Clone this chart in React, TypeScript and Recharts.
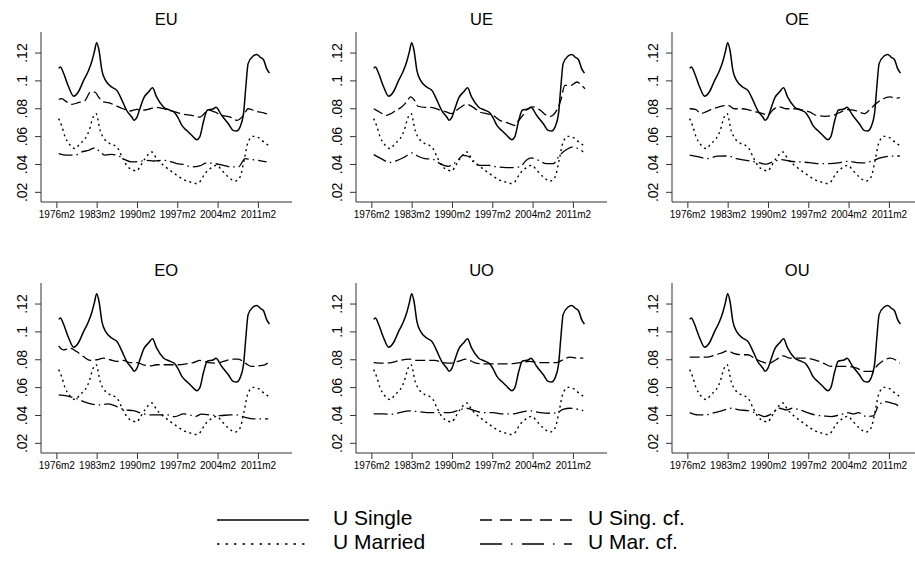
import { Line, LineChart, XAxis, YAxis } from "recharts";

type Pt = [number, number];

const panelTitles = ["EU", "UE", "OE", "EO", "UO", "OU"];
const yearTicks = [1976, 1983, 1990, 1997, 2004, 2011];
const valueTicks = [0.02, 0.04, 0.06, 0.08, 0.1, 0.12];
const legendLabels = ["U Single", "U Sing. cf.", "U Married", "U Mar. cf."];

// common to every panel
const uSingle: Pt[] = [
  [1976.4, 0.109], [1976.7, 0.11], [1977.2, 0.106], [1978.1, 0.096], [1979.0, 0.089],
  [1979.8, 0.092], [1980.7, 0.1], [1981.6, 0.1076], [1982.2, 0.1147], [1982.6, 0.121],
  [1983.0, 0.1274], [1983.4, 0.122], [1983.9, 0.1076], [1984.6, 0.1], [1985.6, 0.0956],
  [1986.6, 0.0927], [1987.4, 0.086], [1988.2, 0.0789], [1989.1, 0.0741], [1989.5, 0.0717],
  [1990.0, 0.074], [1990.5, 0.08], [1991.2, 0.088], [1992.0, 0.092], [1992.7, 0.095],
  [1993.4, 0.0885], [1994.6, 0.0813], [1995.7, 0.079], [1996.6, 0.077], [1997.2, 0.073],
  [1997.8, 0.068], [1998.6, 0.0645], [1999.5, 0.061], [2000.4, 0.0578], [2000.9, 0.0598],
  [2001.6, 0.0717], [2002.2, 0.0789], [2003.3, 0.08], [2003.7, 0.081], [2004.7, 0.0753],
  [2005.9, 0.069], [2006.7, 0.0645], [2007.3, 0.064], [2007.9, 0.067], [2008.5, 0.0765],
  [2008.9, 0.0956], [2009.3, 0.1124], [2010.2, 0.118], [2010.8, 0.119], [2011.4, 0.117],
  [2012.0, 0.115], [2012.5, 0.109], [2013.0, 0.1056]
];

const uMarried: Pt[] = [
  [1976.4, 0.0729], [1976.9, 0.068], [1977.5, 0.06], [1978.4, 0.0538], [1979.3, 0.0514],
  [1980.1, 0.055], [1981.0, 0.0586], [1981.7, 0.0645], [1982.4, 0.0741], [1982.9, 0.0765],
  [1983.6, 0.0645], [1984.5, 0.0574], [1985.3, 0.055], [1986.5, 0.0526], [1987.4, 0.0454],
  [1988.2, 0.0394], [1989.3, 0.0359], [1990.0, 0.0354], [1990.5, 0.0383], [1991.4, 0.0442],
  [1992.6, 0.049], [1993.4, 0.0442], [1994.6, 0.0394], [1995.7, 0.0359], [1996.9, 0.0323],
  [1998.1, 0.0292], [1999.2, 0.0275], [2000.3, 0.0263], [2000.9, 0.0275], [2001.8, 0.0335],
  [2002.7, 0.037], [2003.9, 0.0394], [2004.7, 0.0359], [2005.9, 0.031], [2007.0, 0.028],
  [2007.9, 0.031], [2008.6, 0.043], [2009.3, 0.0562], [2010.2, 0.0602], [2011.1, 0.0593],
  [2012.0, 0.0562], [2012.8, 0.0538]
];

const euSingCf: Pt[] = [
  [1976.4, 0.0868], [1976.9, 0.0872], [1977.8, 0.0849], [1978.7, 0.0832], [1979.8, 0.0844],
  [1981.0, 0.086], [1981.9, 0.092], [1982.7, 0.092], [1983.3, 0.0885], [1984.2, 0.0849],
  [1985.0, 0.0844], [1986.2, 0.0825], [1987.6, 0.08], [1988.8, 0.0784], [1990.0, 0.0796],
  [1991.1, 0.079], [1992.3, 0.08], [1993.4, 0.081], [1995.2, 0.0794], [1996.6, 0.0777],
  [1998.1, 0.076], [1999.5, 0.0753], [2000.9, 0.074], [2002.4, 0.079], [2003.5, 0.0777],
  [2004.7, 0.0753], [2006.2, 0.074], [2007.4, 0.0717], [2008.5, 0.0753], [2009.3, 0.08],
  [2010.8, 0.078], [2012.0, 0.077], [2012.8, 0.076]
];

const euMarCf: Pt[] = [
  [1976.4, 0.0478], [1977.8, 0.0467], [1979.3, 0.0467], [1980.4, 0.049], [1981.6, 0.0502],
  [1982.7, 0.052], [1983.6, 0.049], [1984.5, 0.0467], [1985.6, 0.0473], [1986.8, 0.0461],
  [1987.9, 0.0435], [1989.1, 0.0418], [1990.5, 0.0423], [1991.7, 0.043], [1992.9, 0.0425],
  [1994.6, 0.043], [1996.0, 0.0418], [1996.9, 0.0406], [1998.1, 0.04], [1999.5, 0.0383],
  [2000.9, 0.039], [2002.1, 0.0411], [2003.5, 0.0406], [2005.0, 0.0394], [2006.2, 0.0383],
  [2007.6, 0.0383], [2008.8, 0.0442], [2009.6, 0.0437], [2011.1, 0.043], [2012.5, 0.0418]
];

const ueSingCf: Pt[] = [
  [1976.4, 0.08], [1977.4, 0.0777], [1978.6, 0.0753], [1979.4, 0.0765], [1980.3, 0.079],
  [1981.2, 0.081], [1982.1, 0.0849], [1982.8, 0.0885], [1983.5, 0.086], [1984.1, 0.0818],
  [1985.3, 0.081], [1986.4, 0.081], [1987.9, 0.079], [1989.0, 0.0777], [1989.9, 0.0765],
  [1990.8, 0.079], [1991.6, 0.0813], [1992.5, 0.0832], [1993.7, 0.081], [1994.8, 0.0777],
  [1996.0, 0.0765], [1997.1, 0.0753], [1998.3, 0.0717], [1999.2, 0.0705], [2000.0, 0.0693],
  [2000.9, 0.068], [2001.5, 0.0712], [2002.3, 0.0753], [2003.2, 0.08], [2004.1, 0.0813],
  [2005.3, 0.079], [2006.4, 0.0753], [2007.1, 0.0746], [2008.2, 0.079], [2008.9, 0.086],
  [2009.6, 0.0968], [2010.6, 0.0968], [2011.7, 0.0992], [2012.5, 0.0968], [2013.1, 0.0944]
];

const ueMarCf: Pt[] = [
  [1976.4, 0.0471], [1977.7, 0.0442], [1979.2, 0.0414], [1980.3, 0.0426], [1981.8, 0.0454],
  [1983.1, 0.0483], [1984.1, 0.0459], [1985.3, 0.0442], [1986.7, 0.0437], [1987.9, 0.0406],
  [1989.3, 0.0387], [1990.2, 0.0402], [1991.0, 0.043], [1991.9, 0.0466], [1992.8, 0.0459],
  [1993.7, 0.0418], [1994.8, 0.0394], [1996.3, 0.0394], [1997.7, 0.0383], [1999.5, 0.0378],
  [2000.6, 0.0378], [2001.8, 0.0383], [2002.9, 0.043], [2003.8, 0.0447], [2005.0, 0.043],
  [2006.4, 0.0406], [2007.6, 0.0406], [2008.7, 0.0466], [2009.9, 0.0507], [2011.1, 0.0526],
  [2011.9, 0.0514], [2012.8, 0.049]
];

const oeSingCf: Pt[] = [
  [1976.4, 0.08], [1977.5, 0.0794], [1978.3, 0.0765], [1979.2, 0.0777], [1980.4, 0.08],
  [1981.5, 0.0813], [1983.0, 0.0825], [1984.2, 0.08], [1985.3, 0.08], [1986.5, 0.0794],
  [1987.9, 0.0777], [1989.1, 0.0765], [1990.0, 0.0753], [1990.8, 0.079], [1992.0, 0.0813],
  [1993.2, 0.08], [1994.6, 0.08], [1996.1, 0.079], [1997.2, 0.0777], [1998.4, 0.0753],
  [1999.9, 0.0746], [2001.3, 0.0753], [2002.8, 0.078], [2003.9, 0.0794], [2005.4, 0.0784],
  [2006.8, 0.0765], [2007.8, 0.08], [2008.9, 0.0841], [2010.0, 0.0872], [2011.2, 0.0885],
  [2012.4, 0.0877], [2012.9, 0.088]
];

const oeMarCf: Pt[] = [
  [1976.4, 0.0467], [1978.0, 0.0454], [1979.5, 0.0442], [1981.3, 0.046], [1983.0, 0.0461],
  [1984.5, 0.0442], [1986.2, 0.043], [1987.9, 0.0418], [1989.7, 0.0402], [1990.8, 0.0418],
  [1992.3, 0.0435], [1993.8, 0.0423], [1995.5, 0.0418], [1997.2, 0.0414], [1999.0, 0.0406],
  [2000.7, 0.0406], [2002.2, 0.0411], [2003.9, 0.0423], [2005.4, 0.0414], [2006.8, 0.0411],
  [2008.3, 0.043], [2009.7, 0.0449], [2011.2, 0.0459], [2012.9, 0.0461]
];

const eoSingCf: Pt[] = [
  [1976.4, 0.09], [1977.2, 0.0871], [1978.4, 0.0883], [1979.5, 0.0859], [1980.7, 0.0823],
  [1981.9, 0.0795], [1983.0, 0.08], [1984.2, 0.0811], [1985.3, 0.08], [1986.5, 0.0788],
  [1987.6, 0.0795], [1988.8, 0.078], [1990.0, 0.078], [1991.1, 0.0764], [1992.3, 0.0756],
  [1993.4, 0.0764], [1995.2, 0.0764], [1996.9, 0.0764], [1998.6, 0.0771], [1999.8, 0.078],
  [2000.9, 0.0795], [2002.4, 0.078], [2003.9, 0.0776], [2005.0, 0.0788], [2006.5, 0.0804],
  [2007.6, 0.0804], [2008.8, 0.0776], [2009.9, 0.0752], [2011.1, 0.0756], [2012.2, 0.0764],
  [2012.8, 0.078]
];

const eoMarCf: Pt[] = [
  [1976.4, 0.0548], [1977.8, 0.054], [1979.3, 0.0524], [1980.7, 0.05], [1982.2, 0.0481],
  [1983.6, 0.0476], [1985.0, 0.0483], [1986.5, 0.0464], [1987.9, 0.044], [1989.4, 0.0435],
  [1990.8, 0.0416], [1992.3, 0.0404], [1993.7, 0.0404], [1995.2, 0.0404], [1996.6, 0.0392],
  [1998.1, 0.0411], [1999.2, 0.0404], [2000.1, 0.0392], [2001.2, 0.0409], [2002.7, 0.0404],
  [2004.4, 0.0399], [2006.2, 0.0404], [2007.3, 0.0404], [2008.8, 0.0387], [2010.2, 0.0375],
  [2011.7, 0.0375], [2012.8, 0.0375]
];

const uoSingCf: Pt[] = [
  [1976.4, 0.078], [1978.0, 0.0776], [1979.5, 0.078], [1980.9, 0.0795], [1982.6, 0.0804],
  [1983.8, 0.0795], [1985.2, 0.0795], [1987.0, 0.0795], [1988.4, 0.078], [1989.9, 0.0776],
  [1991.0, 0.0788], [1992.5, 0.0804], [1993.9, 0.078], [1995.4, 0.0771], [1996.9, 0.0771],
  [1998.3, 0.0771], [2000.0, 0.0771], [2001.8, 0.078], [2003.5, 0.0788], [2005.0, 0.078],
  [2006.7, 0.078], [2008.2, 0.078], [2009.3, 0.08], [2010.5, 0.0819], [2011.9, 0.0811],
  [2012.8, 0.0811]
];

const uoMarCf: Pt[] = [
  [1976.4, 0.0411], [1978.0, 0.0411], [1979.5, 0.0409], [1980.9, 0.042], [1982.6, 0.0433],
  [1984.4, 0.0426], [1986.1, 0.042], [1987.9, 0.042], [1989.6, 0.042], [1991.0, 0.0435],
  [1992.5, 0.0452], [1993.9, 0.0435], [1995.4, 0.042], [1997.1, 0.042], [1998.9, 0.0411],
  [2000.6, 0.0411], [2002.4, 0.0428], [2003.8, 0.0433], [2005.3, 0.042], [2007.2, 0.0416],
  [2008.2, 0.042], [2009.3, 0.0444], [2010.5, 0.0452], [2011.9, 0.0444], [2012.8, 0.0435]
];

const ouSingCf: Pt[] = [
  [1976.4, 0.0819], [1978.0, 0.0819], [1979.5, 0.0819], [1981.0, 0.0836], [1982.1, 0.0852],
  [1983.0, 0.0864], [1983.9, 0.0848], [1985.3, 0.0836], [1986.5, 0.0836], [1987.9, 0.0804],
  [1989.4, 0.078], [1990.3, 0.0776], [1991.4, 0.08], [1992.6, 0.0828], [1993.8, 0.0811],
  [1995.2, 0.0811], [1996.7, 0.0811], [1998.1, 0.08], [1999.6, 0.0776], [2001.0, 0.0752],
  [2002.5, 0.0752], [2003.9, 0.0752], [2005.4, 0.074], [2006.8, 0.0716], [2008.0, 0.0716],
  [2009.1, 0.0764], [2010.3, 0.08], [2011.2, 0.0811], [2012.1, 0.08], [2012.9, 0.0776]
];

const ouMarCf: Pt[] = [
  [1976.4, 0.042], [1977.8, 0.0404], [1979.2, 0.0404], [1980.7, 0.042], [1982.1, 0.0435],
  [1983.6, 0.0452], [1985.0, 0.044], [1986.5, 0.0435], [1987.9, 0.0416], [1989.4, 0.0392],
  [1990.6, 0.0411], [1992.0, 0.0452], [1993.2, 0.044], [1994.3, 0.0452], [1995.5, 0.044],
  [1996.7, 0.0423], [1998.1, 0.0404], [1999.6, 0.0397], [2001.0, 0.0392], [2002.5, 0.0404],
  [2003.9, 0.042], [2004.8, 0.0411], [2005.7, 0.042], [2007.1, 0.0392], [2008.3, 0.0397],
  [2009.1, 0.0464], [2010.3, 0.05], [2011.5, 0.0488], [2012.4, 0.0476], [2012.9, 0.0452]
];

const singCfByPanel = [euSingCf, ueSingCf, oeSingCf, eoSingCf, uoSingCf, ouSingCf];
const marCfByPanel = [euMarCf, ueMarCf, oeMarCf, eoMarCf, uoMarCf, ouMarCf];

const colX = [40.7, 356, 671.7];
const rowTop = [31.7, 283.3];
const PLOT_W = 251;
const PLOT_H = 170;
const FONT = "'Liberation Sans', Arial, Helvetica, sans-serif";

function rows(pts: Pt[]) {
  return pts.map(([t, v]) => ({ t, v }));
}

function YTick(props: any) {
  const { y, payload } = props;
  const cx = 21;
  const label = String(payload.value).replace(/^0/, "");
  return (
    <text
      x={cx}
      y={y}
      transform={`rotate(-90 ${cx} ${y})`}
      textAnchor="middle"
      dy="0.36em"
      fontSize={14}
      fill="#000"
    >
      {label}
    </text>
  );
}

function Panel({ index }: { index: number }) {
  const left = colX[index % 3] - 40;
  const top = rowTop[Math.floor(index / 3)] - 10;

  return (
    <div style={{ position: "absolute", left, top }}>
      <LineChart
        width={40 + PLOT_W + 10}
        height={10 + PLOT_H + 30}
        margin={{ top: 10, right: 10, bottom: 0, left: 0 }}
      >
        <XAxis
          type="number"
          dataKey="t"
          domain={[1973.33, 2016.92]}
          allowDataOverflow
          ticks={yearTicks.map((y) => y + 1 / 12)}
          interval={0}
          tickFormatter={(v) => `${Math.round(Number(v) - 1 / 12)}m2`}
          height={30}
          tickSize={6}
          tickMargin={3}
          stroke="#333"
          tick={{ fontSize: 10, fill: "#000" }}
        />
        <YAxis
          type="number"
          domain={[0.01306, 0.1351]}
          allowDataOverflow
          ticks={valueTicks}
          interval={0}
          width={40}
          tickSize={6}
          stroke="#333"
          tick={YTick}
        />
        <Line
          data={rows(uSingle)}
          dataKey="v"
          type="monotone"
          stroke="#000"
          strokeWidth={1.5}
          dot={false}
          isAnimationActive={false}
        />
        <Line
          data={rows(singCfByPanel[index])}
          dataKey="v"
          type="monotone"
          stroke="#000"
          strokeWidth={1.3}
          strokeDasharray="10 4"
          dot={false}
          isAnimationActive={false}
        />
        <Line
          data={rows(uMarried)}
          dataKey="v"
          type="monotone"
          stroke="#000"
          strokeWidth={1.4}
          strokeDasharray="2 3.5"
          dot={false}
          isAnimationActive={false}
        />
        <Line
          data={rows(marCfByPanel[index])}
          dataKey="v"
          type="monotone"
          stroke="#000"
          strokeWidth={1.3}
          strokeDasharray="14 4 1.5 4"
          dot={false}
          isAnimationActive={false}
        />
      </LineChart>
    </div>
  );
}

export default function App() {
  const legendRows = [520, 544];
  const legendFont = 21;
  return (
    <div
      style={{
        position: "absolute",
        left: 0,
        top: 0,
        width: 915,
        height: 576,
        overflow: "hidden",
        background: "#fff",
        fontFamily: FONT
      }}
    >
      {panelTitles.map((_, i) => (
        <Panel key={i} index={i} />
      ))}

      <svg
        width={915}
        height={576}
        style={{ position: "absolute", left: 0, top: 0, pointerEvents: "none" }}
      >
        {panelTitles.map((title, i) => (
          <text
            key={title}
            x={colX[i % 3] + PLOT_W / 2}
            y={rowTop[Math.floor(i / 3)] - 7}
            textAnchor="middle"
            fontSize={16.5}
            fill="#000"
          >
            {title}
          </text>
        ))}

        <line x1={217} x2={309} y1={legendRows[0]} y2={legendRows[0]} stroke="#000" strokeWidth={1.5} />
        <text x={333} y={legendRows[0] + 5} fontSize={legendFont} fill="#000">{legendLabels[0]}</text>

        <line x1={480} x2={572} y1={legendRows[0]} y2={legendRows[0]} stroke="#000" strokeWidth={1.5} strokeDasharray="12 8" />
        <text x={588} y={legendRows[0] + 5} fontSize={legendFont} fill="#000">{legendLabels[1]}</text>

        <line x1={217} x2={309} y1={legendRows[1]} y2={legendRows[1]} stroke="#000" strokeWidth={1.5} strokeDasharray="2.5 6" />
        <text x={333} y={legendRows[1] + 5} fontSize={legendFont} fill="#000">{legendLabels[2]}</text>

        <line x1={480} x2={572} y1={legendRows[1]} y2={legendRows[1]} stroke="#000" strokeWidth={1.5} strokeDasharray="22 9 1.5 9.5" />
        <text x={588} y={legendRows[1] + 5} fontSize={legendFont} fill="#000">{legendLabels[3]}</text>
      </svg>
    </div>
  );
}
